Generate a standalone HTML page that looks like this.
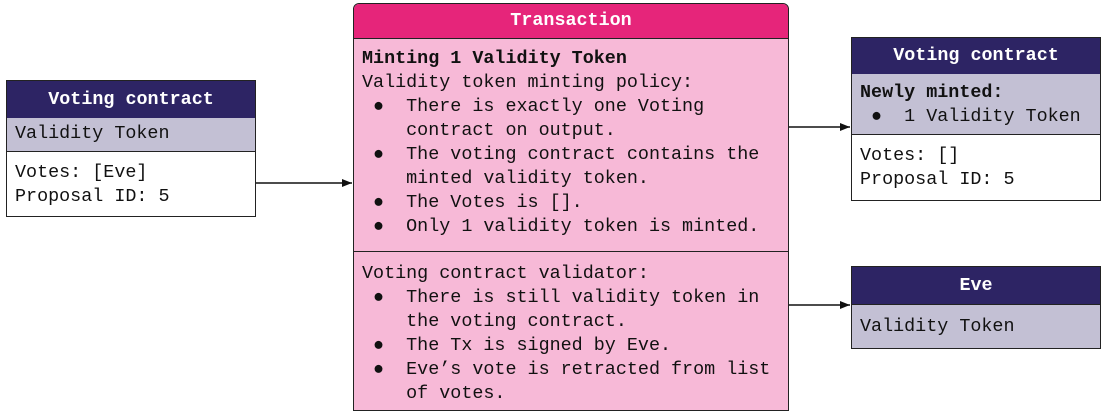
<!DOCTYPE html>
<html><head><style>
body{margin:0;width:1105px;height:413px;background:#fff;position:relative;font-family:"Liberation Mono",monospace;font-size:18.4px;color:#111;overflow:hidden}
.b{position:absolute;box-sizing:border-box;border:1px solid #222}
.h{position:absolute;left:0;right:0;top:0;background:#2d2464;color:#fff;font-weight:bold;text-align:center;border-bottom:1px solid #222}
.g{position:absolute;left:0;right:0;background:#c3c0d4;border-bottom:1px solid #222}
.t{position:absolute;white-space:pre;line-height:24px}
</style></head><body>
<div class="b" style="left:6px;top:80px;width:250px;height:137px">
 <div class="h" style="height:37px;line-height:37px">Voting contract</div>
 <div class="g" style="top:37px;height:33px"></div>
 <div class="t" style="left:8px;top:41px">Validity Token</div>
 <div class="t" style="left:8px;top:80px">Votes: [Eve]
Proposal ID: 5</div>
</div>
<div class="b" style="left:353px;top:3px;width:436px;height:408px;background:#f7b9d7;border-radius:6px 6px 0 0;overflow:hidden">
 <div class="h" style="height:34px;line-height:34px;background:#e6257a">Transaction</div>
 <div style="position:absolute;left:0;right:0;top:247px;border-top:1px solid #222"></div>
 <div class="t" style="left:8px;top:43px"><b>Minting 1 Validity Token</b>
Validity token minting policy:
 ●  There is exactly one Voting
    contract on output.
 ●  The voting contract contains the
    minted validity token.
 ●  The Votes is [].
 ●  Only 1 validity token is minted.</div>
 <div class="t" style="left:8px;top:258px">Voting contract validator:
 ●  There is still validity token in
    the voting contract.
 ●  The Tx is signed by Eve.
 ●  Eve’s vote is retracted from list
    of votes.</div>
</div>
<div class="b" style="left:851px;top:37px;width:250px;height:164px">
 <div class="h" style="height:36px;line-height:36px">Voting contract</div>
 <div class="g" style="top:36px;height:60px"></div>
 <div class="t" style="left:8px;top:43px"><b>Newly minted:</b>
 ●  1 Validity Token</div>
 <div class="t" style="left:8px;top:106px">Votes: []
Proposal ID: 5</div>
</div>
<div class="b" style="left:851px;top:266px;width:250px;height:83px;background:#c3c0d4">
 <div class="h" style="height:37px;line-height:37px">Eve</div>
 <div class="t" style="left:8px;top:48px">Validity Token</div>
</div>
<svg width="1105" height="413" style="position:absolute;left:0;top:0">
<defs><marker id="a" markerWidth="10" markerHeight="8" refX="10" refY="4" orient="auto" markerUnits="userSpaceOnUse"><path d="M0,0L10,4L0,8z" fill="#111"/></marker></defs>
<g stroke="#111" stroke-width="1.5">
<line x1="256" y1="183" x2="352" y2="183" marker-end="url(#a)"/>
<line x1="789" y1="127" x2="850" y2="127" marker-end="url(#a)"/>
<line x1="789" y1="305" x2="850" y2="305" marker-end="url(#a)"/>
</g></svg>
</body></html>
